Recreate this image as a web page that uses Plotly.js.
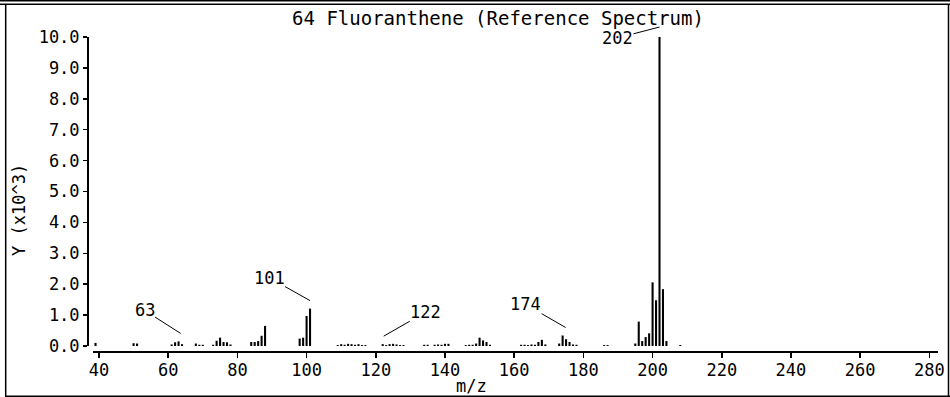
<!DOCTYPE html>
<html>
<head>
<meta charset="utf-8">
<script src="https://cdn.plot.ly/plotly-3.0.1.min.js"></script>
<style>
html,body{margin:0;padding:0;background:#fff;}
#chart{width:950px;height:397px;}
</style>
</head>
<body>
<div id="chart"></div>
<script>
// m/z values and intensities (in units of 10^3)
const mz = [39,50,51,61,62,63,64,68,69,70,73,74,75,76,77,78,84,85,86,87,88,98,99,100,101,
  109,110,111,112,113,114,115,116,117,122,123,124,125,126,127,128,134,135,137,138,139,140,141,
  146,147,148,149,150,151,152,153,162,163,164,165,166,167,168,169,173,174,175,176,177,178,
  186,187,195,196,197,198,199,200,201,202,203,204,208];
const intensity = [0.10,0.09,0.08,0.05,0.12,0.15,0.06,0.08,0.04,0.04,0.04,0.17,0.27,0.13,0.12,0.05,0.13,0.13,0.16,0.33,0.65,0.24,0.27,0.97,1.21,
  0.03,0.06,0.04,0.07,0.06,0.04,0.06,0.03,0.03,0.06,0.03,0.06,0.07,0.05,0.03,0.03,0.04,0.04,0.04,0.05,0.04,0.07,0.07,
  0.03,0.04,0.04,0.08,0.27,0.18,0.13,0.04,0.04,0.04,0.03,0.05,0.04,0.13,0.20,0.05,0.08,0.34,0.22,0.13,0.05,0.04,
  0.03,0.03,0.08,0.79,0.16,0.29,0.41,2.06,1.48,10.0,1.84,0.16,0.03];
const labeledPeaks = [63,101,122,174,202];
const titleText = "64 Fluoranthene (Reference Spectrum)";
const xTitle = "m/z";
const yTitle = "Y (x10^3)";
const xTicks = [40,60,80,100,120,140,160,180,200,220,240,260,280];
const yTicks = [0,1,2,3,4,5,6,7,8,9,10];

const FONT = "DejaVu Sans Mono, Liberation Mono, monospace";

// label placement (pixel offsets of text relative to arrow head, and head shift above peak)
const labelOffsets = {
  63:  {ax:-36, ay:-23, xs:2, ys:8},
  101: {ax:-41, ay:-23, xs:0, ys:8},
  122: {ax:42,  ay:-24, xs:1, ys:8},
  174: {ax:-40, ay:-23, xs:3, ys:8},
  202: {ax:-42, ay:11,  xs:0, ys:10}
};

const annotations = labeledPeaks.map(p => {
  const o = labelOffsets[p];
  return {
    x: p, y: intensity[mz.indexOf(p)], xref:'x', yref:'y',
    text: String(p), showarrow:true, arrowhead:0, arrowwidth:1, arrowcolor:'#000',
    ax:o.ax, ay:o.ay, xshift:o.xs, yshift:o.ys, standoff:0, startstandoff:0,
    borderpad:0, font:{family:FONT, size:17, color:'#000'}
  };
});
annotations.push({
  text: xTitle, xref:'paper', yref:'paper', x:(471-88)/850, y:(352-386)/315,
  showarrow:false, xanchor:'center', yanchor:'middle', font:{family:FONT, size:17, color:'#000'}
});
annotations.push({
  text: yTitle, xref:'paper', yref:'paper', x:(19-88)/850, y:(352-210)/315,
  textangle:-90, showarrow:false, xanchor:'center', yanchor:'middle', font:{family:FONT, size:17, color:'#000'}
});

const frame = {type:'line', xref:'paper', yref:'paper', line:{color:'#000', width:1.5}};
const shapes = [
  Object.assign({}, frame, {x0:-0.104, x1:1.02, y0:(352-0.8)/315, y1:(352-0.8)/315}),
  Object.assign({}, frame, {x0:-0.104, x1:1.02, y0:(352-4.3)/315, y1:(352-4.3)/315}),
  Object.assign({}, frame, {x0:(5.7-88)/850, x1:(5.7-88)/850, y0:(352-4.3)/315, y1:(352-397)/315}),
  Object.assign({}, frame, {x0:(5.7-88)/850, x1:1.02, y0:(352-396.3)/315, y1:(352-396.3)/315}),
  Object.assign({}, frame, {x0:(948.5-88)/850, x1:(948.5-88)/850, y0:(352-4.3)/315, y1:(352-397)/315})
];

const trace = {
  type:'bar', x: mz, y: intensity, width:0.6,
  marker:{color:'#000', line:{width:0}}, hoverinfo:'x+y'
};

const layout = {
  width:950, height:397,
  margin:{l:88, r:12, t:37, b:45},
  paper_bgcolor:'#fff', plot_bgcolor:'#fff',
  showlegend:false,
  title:{text:titleText, font:{family:FONT, size:19, color:'#000'},
         xref:'paper', x:(498-88)/850, xanchor:'center', yref:'container', y:1-18/397, yanchor:'middle'},
  xaxis:{
    range:[38.27, 282.49], domain:[5/850, 1], anchor:'free', position:0,
    tickvals:xTicks, ticks:'outside', ticklen:5, tickwidth:1.5, tickcolor:'#000',
    ticklabelstandoff:-2,
    showline:true, linecolor:'#000', linewidth:2, showgrid:false, zeroline:false,
    tickfont:{family:FONT, size:17, color:'#000'}
  },
  yaxis:{
    range:[0,10], domain:[6/315, 1], anchor:'free', position:0,
    tickvals:yTicks, tickformat:'.1f', ticks:'outside', ticklen:4, tickwidth:1.5, tickcolor:'#000',
    showline:true, linecolor:'#000', linewidth:2, showgrid:false, zeroline:false,
    tickfont:{family:FONT, size:17, color:'#000'}
  },
  annotations: annotations,
  shapes: shapes
};

Plotly.newPlot('chart', [trace], layout, {staticPlot:true, displayModeBar:false});
</script>
</body>
</html>
